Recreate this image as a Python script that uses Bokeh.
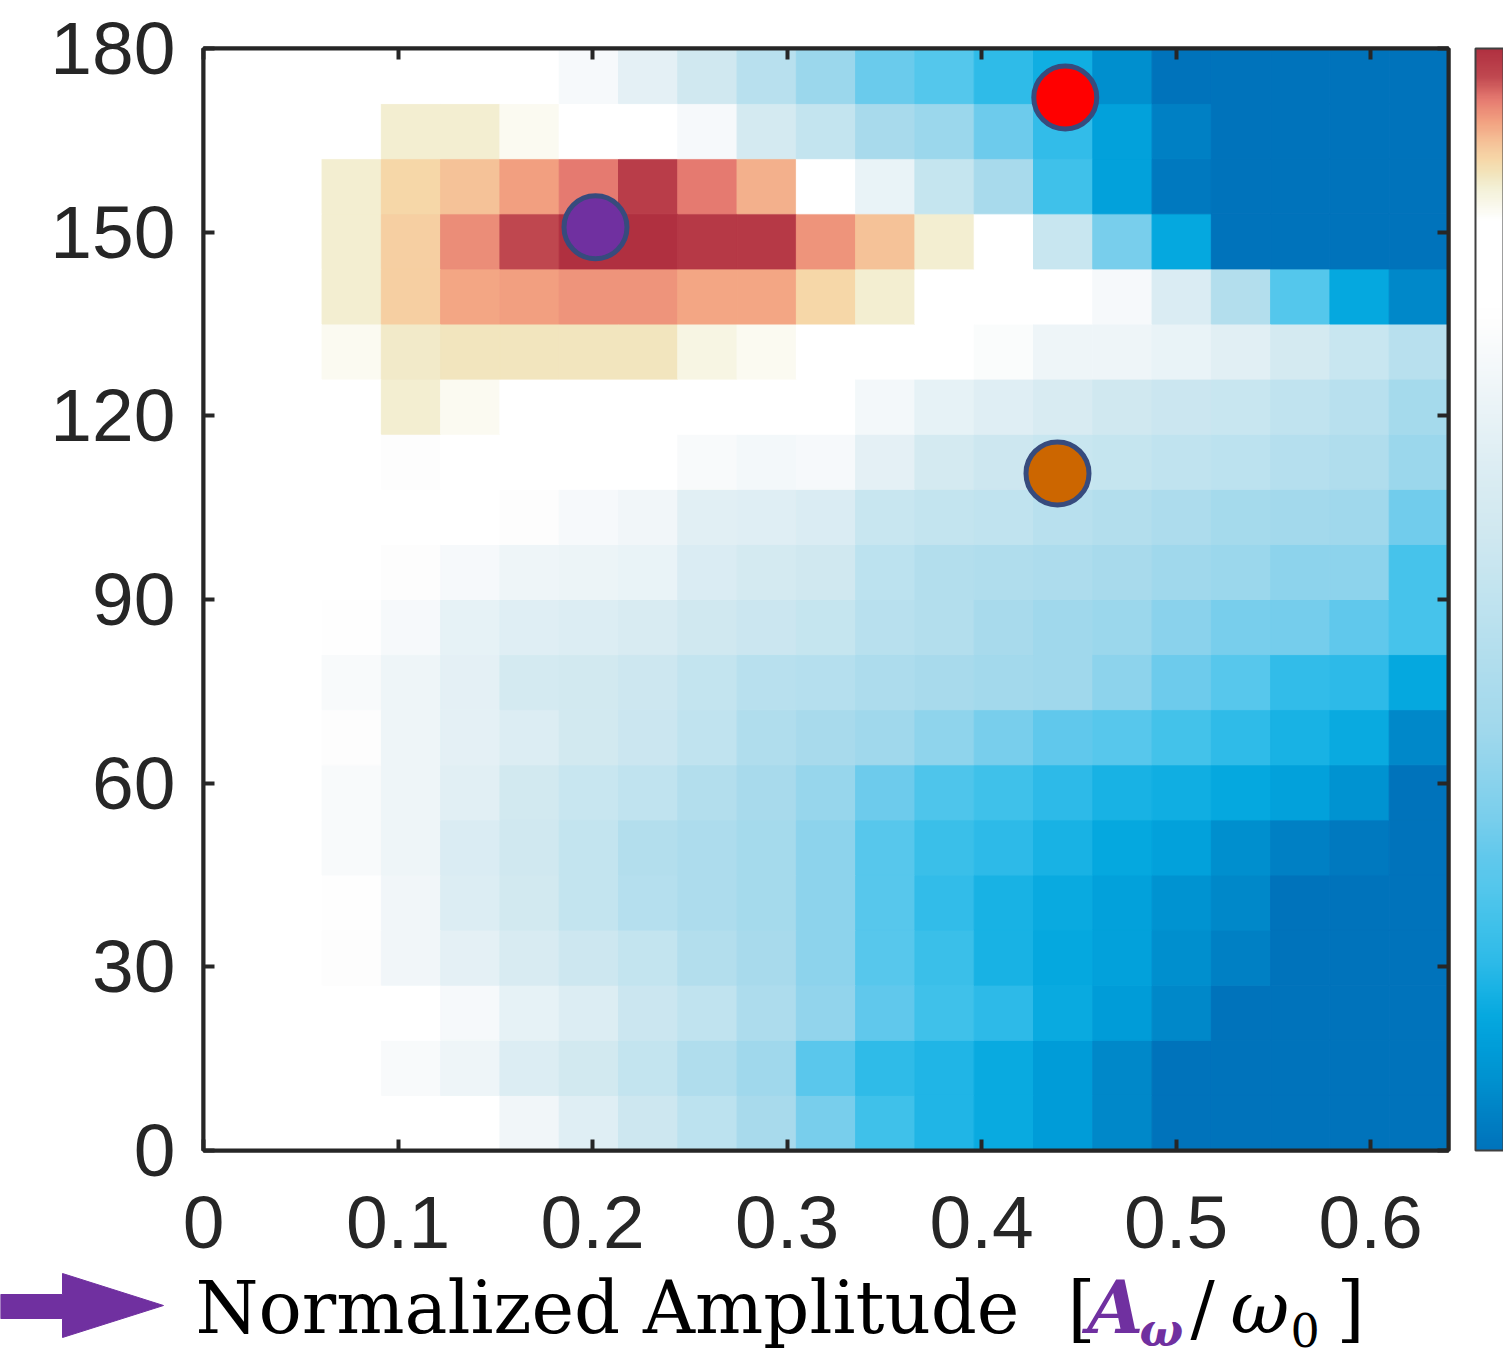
import numpy as np
from bokeh.plotting import figure
from bokeh.models import (Range1d, LinearAxis, FixedTicker, LinearColorMapper, ColorBar,
                          ColumnDataSource, CustomJSTickFormatter)
from bokeh.transform import transform
from bokeh.embed import file_html
from bokeh.resources import INLINE
from bokeh.core.properties import value

# ---------------- data (colour-bar level, 0 = deepest blue, 100 = darkest red) ----------------
# one list per angle band (lower edge in degrees), 21 amplitude bins from 0 to 0.64
v_000 = [80, 80, 80, 80, 80, 70, 63, 55, 48.5, 41, 30, 20.5, 15.5, 12.5, 9, 4.5, 0, 0, 0, 0, 0]
v_009 = [80, 80, 80, 73, 69, 62, 57, 51, 44, 38, 25, 17.5, 15.5, 12.5, 9, 4.5, 0, 0, 0, 0, 0]
v_018 = [80, 80, 80, 80, 72, 66, 62, 54, 50, 43, 35, 26.5, 20.5, 17, 12.5, 9, 4.5, 0, 0, 0, 0]
v_027 = [80, 80, 75, 70, 65, 60, 55, 51, 45, 41, 34, 24.5, 19.5, 14.5, 12, 10.5, 6, 3, 0, 0, 0]
v_036 = [80, 80, 76, 70, 62, 57, 51, 46, 43, 40, 34, 24.5, 18, 14.5, 12.5, 10.5, 7, 4.5, 0, 0, 0]
v_045 = [80, 80, 73, 69, 61, 56, 51, 45, 43, 40, 34, 24.5, 19.5, 17, 14.5, 12, 10.5, 6, 3, 1.5, 0]
v_054 = [80, 80, 73, 69, 64, 57, 53, 50, 45, 41, 36, 28.5, 23, 20.5, 17, 14.5, 13.5, 12, 10.5, 7, 0]
v_063 = [80, 80, 75, 69, 65, 62, 57, 54, 50, 44, 41, 38, 34.5, 30, 26.5, 24.5, 21, 17.5, 14.5, 12.5, 4.5]
v_072 = [80, 80, 73, 69, 65, 58, 57, 55, 51, 47, 46, 43, 41, 39, 38, 34, 28.5, 24.5, 18, 17, 12]
v_081 = [80, 80, 76, 72, 66, 63, 62, 60, 56, 54, 52, 47, 45, 41, 38, 37, 33.5, 30, 29.5, 26.5, 21.5]
v_090 = [80, 80, 80, 75, 72, 69, 68, 67, 61, 58, 56, 48.5, 45, 44, 43, 41, 38, 37, 34, 34, 21.5]
v_099 = [80, 80, 80, 80, 80, 75, 72, 70, 64, 63, 61, 53, 51, 50, 47, 45, 43, 40, 39, 38, 29]
v_108 = [80, 80, 80, 75, 80, 80, 80, 80, 73, 71, 72, 65, 58, 55, 53, 52, 50, 48.5, 46, 44, 37]
v_117 = [80, 80, 80, 87.5, 85.5, 80, 80, 80, 80, 80, 80, 71, 66, 63, 60, 56, 54, 53, 50, 47, 40]
v_126 = [80, 80, 85.5, 88, 88.5, 88.5, 88.5, 88.5, 86.5, 85.5, 80, 80, 80, 74, 69, 69, 67, 64, 58, 53, 47]
v_135 = [80, 80, 87.5, 90.5, 93, 93.5, 94, 94, 93, 93, 90, 87.5, 80, 80, 80, 72, 61, 45, 24, 12, 4.5]
v_144 = [80, 80, 87.5, 90.5, 94.5, 97.5, 100, 100, 99, 99, 94, 91.5, 87.5, 80, 53, 30, 12, 0, 0, 0, 0]
v_153 = [80, 80, 87.5, 90, 91.5, 93.5, 95.5, 98.5, 95.5, 92.5, 80, 67, 52, 41, 20.5, 10.5, 1.5, 0, 0, 0, 0]
v_162 = [80, 80, 80, 87.5, 87.5, 85.5, 80, 80, 72, 58, 51, 41, 37, 28.5, 18, 10.5, 3, 0, 0, 0, 0]
v_171 = [80, 80, 80, 80, 80, 80, 72, 65, 56, 47, 37, 28, 24, 17.5, 13.5, 6, 0, 0, 0, 0, 0]

angle_bands = [0, 9, 18, 27, 36, 45, 54, 63, 72, 81, 90, 99, 108, 117, 126, 135, 144, 153, 162, 171]
band_rows = [v_000, v_009, v_018, v_027, v_036, v_045, v_054, v_063, v_072, v_081,
             v_090, v_099, v_108, v_117, v_126, v_135, v_144, v_153, v_162, v_171]

amp_max = 0.64
n_amp = 21
angle_step = 9

amp_ticks = [0, 0.1, 0.2, 0.3, 0.4, 0.5, 0.6]
amp_labels = ["0", "0.1", "0.2", "0.3", "0.4", "0.5", "0.6"]
angle_ticks = [0, 30, 60, 90, 120, 150, 180]
angle_labels = ["0", "30", "60", "90", "120", "150", "180"]

marker_amp = [0.2015, 0.443, 0.439]
marker_angle = [150.8, 172.0, 110.6]
marker_fill = ["#7030A0", "#FF0000", "#CC6600"]

# ---------------- colour map ----------------
stops = [(0.00, "#0073BB"), (0.03, "#0080C4"), (0.06, "#0090CE"), (0.09, "#009CD8"),
         (0.12, "#05A8DF"), (0.145, "#18B2E4"), (0.17, "#2DBAE8"), (0.205, "#40C1EA"),
         (0.24, "#55C7EC"), (0.265, "#60C8EC"), (0.30, "#78CEEC"), (0.34, "#8DD3EC"),
         (0.38, "#A0D8EC"), (0.44, "#B0DDED"), (0.50, "#C0E3EF"), (0.56, "#D0E8F0"),
         (0.62, "#DCEDF3"), (0.69, "#EEF5F8"), (0.75, "#FDFDFD"), (0.77, "#FFFFFF"),
         (0.845, "#FFFFFF"), (0.875, "#F3F0D5"), (0.885, "#F2E6C0"), (0.90, "#F6D7A8"),
         (0.915, "#F5C399"), (0.935, "#F2A080"), (0.955, "#E57A70"), (0.975, "#C04850"),
         (1.00, "#B03040")]


def _rgb(h):
    return [int(h[i:i + 2], 16) for i in (1, 3, 5)]


pos = np.array([s[0] for s in stops])
cols = np.array([_rgb(s[1]) for s in stops], dtype=float)
palette = []
for t in np.linspace(0, 1, 512):
    rgb = [int(round(np.interp(t, pos, cols[:, k]))) for k in range(3)]
    palette.append("#%02x%02x%02x" % tuple(rgb))

mapper = LinearColorMapper(palette=palette, low=0, high=100)

# ---------------- cells ----------------
dx = amp_max / n_amp
xs, ys, vals = [], [], []
for band, row in zip(angle_bands, band_rows):
    for j, val in enumerate(row):
        xs.append((j + 0.5) * dx)
        ys.append(band + angle_step / 2)
        vals.append(val)
src = ColumnDataSource(dict(x=xs, y=ys, v=vals))

INK = "#262626"
W = 1503
H_MAIN = 1266
LEFT, TOP, RIGHT, BOTTOM = 203, 48, 55, 116
p = figure(width=W, height=H_MAIN, x_range=Range1d(0, amp_max), y_range=Range1d(0, 180),
           output_backend="svg", toolbar_location=None,
           min_border_left=LEFT, min_border_right=RIGHT, min_border_top=TOP,
           min_border_bottom=BOTTOM)
p.background_fill_color = "white"
p.grid.visible = False
p.outline_line_color = INK
p.outline_line_width = 4

p.rect(x="x", y="y", width=dx, height=angle_step, source=src,
       fill_color=transform("v", mapper), line_color=transform("v", mapper), line_width=1)

p.scatter(x=marker_amp, y=marker_angle, size=63, fill_color=marker_fill,
          line_color="#374B7D", line_width=5)


def style_axis(ax, ticks, labels, show, standoff):
    ax.ticker = FixedTicker(ticks=ticks)
    ax.axis_line_color = INK
    ax.axis_line_width = 4
    ax.major_tick_in = 11
    ax.major_tick_out = 0
    ax.major_tick_line_width = 4
    ax.major_tick_line_color = INK
    ax.minor_tick_line_color = None
    ax.major_label_standoff = standoff
    if show:
        ax.major_label_overrides = {t: l for t, l in zip(ticks, labels)}
        ax.major_label_text_font = "Liberation Sans"
        ax.major_label_text_font_size = "75px"
        ax.major_label_text_color = INK
    else:
        ax.formatter = CustomJSTickFormatter(code="return ''")
        ax.major_label_text_font_size = "1px"


style_axis(p.xaxis[0], amp_ticks, amp_labels, True, 46)
style_axis(p.yaxis[0], angle_ticks, angle_labels, True, 28)

top_ax = LinearAxis()
style_axis(top_ax, amp_ticks, amp_labels, False, 0)
p.add_layout(top_ax, "above")
right_ax = LinearAxis()
style_axis(right_ax, angle_ticks, angle_labels, False, 0)
p.add_layout(right_ax, "right")

# invisible spacer that leaves the gap between the frame and the colour bar
gap_ax = LinearAxis(ticker=FixedTicker(ticks=angle_ticks), major_tick_in=0, major_tick_out=27,
                    major_tick_line_color=None, axis_line_color=None,
                    minor_tick_line_color=None, minor_tick_out=0,
                    formatter=CustomJSTickFormatter(code="return ''"),
                    major_label_text_font_size="1px", major_label_standoff=0)
p.add_layout(gap_ax, "right")

cb = ColorBar(color_mapper=mapper, width=28, padding=0, margin=0,
              ticker=FixedTicker(ticks=[]), major_tick_line_color=None,
              major_label_text_font_size="1px",
              bar_line_color="#404040", bar_line_width=2,
              border_line_color=None, background_fill_alpha=0)
p.add_layout(cb, "right")

# ---------------- x-axis title strip (own root, pixel coordinates) ----------------
H_TITLE = 96
pb = figure(width=W, height=H_TITLE, x_range=Range1d(0, W), y_range=Range1d(H_TITLE, 0),
            output_backend="svg", toolbar_location=None, min_border=0)
pb.axis.visible = False
pb.grid.visible = False
pb.outline_line_color = None

PURPLE = "#7030A0"
pb.patch(x=[0, 62, 62, 163, 62, 62, 0], y=[28, 28, 7, 39, 71, 52, 52],
         fill_color=PURPLE, line_color=PURPLE)

SERIF = "DejaVu Serif"
mid = 41      # vertical centre of the main line of the title
mid_sub = 63  # vertical centre of the subscripts
pieces = [
    (195, mid, "Normalized Amplitude", "normal", "72px", "black"),
    (1067, mid, "[", "normal", "72px", "black"),
    (1087, mid, "A", "bold italic", "72px", PURPLE),
    (1139, mid_sub, "ω", "bold italic", "46px", PURPLE),
    (1190, mid, "/", "normal", "72px", "black"),
    (1230, mid, "ω", "italic", "72px", "black"),
    (1290, mid_sub, "0", "normal", "46px", "black"),
    (1336, mid, "]", "normal", "72px", "black"),
]
for x, y, txt, style, size, color in pieces:
    pb.text(x=[x], y=[y], text=[txt], text_font=value(SERIF), text_font_style=style,
            text_font_size=size, text_color=color, text_baseline="middle", text_align="left")

open("out.html", "w").write(file_html([p, pb], INLINE))
